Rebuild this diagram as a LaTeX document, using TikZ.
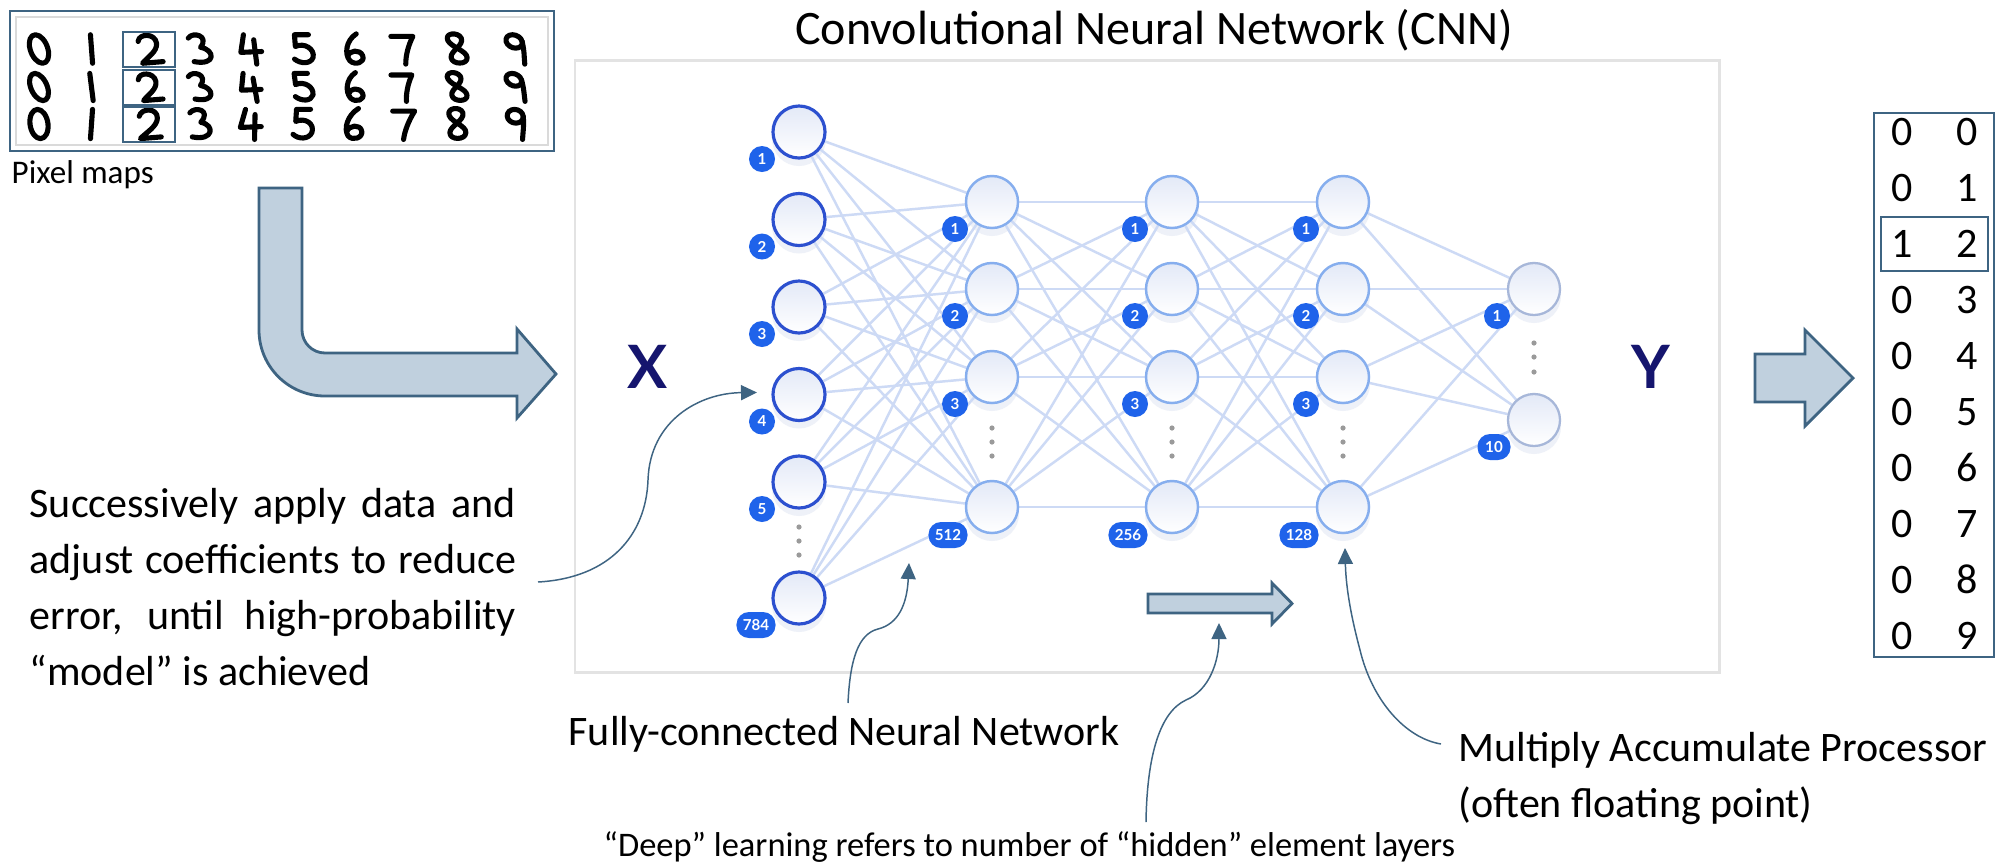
\documentclass[tikz,border=0pt]{standalone}
\usepackage{fontspec}
\setmainfont{Carlito}
\newfontfamily\latofont{Lato}
\usetikzlibrary{arrows.meta,calc,backgrounds}

\definecolor{steel}{HTML}{3E6482}
\definecolor{steelfill}{HTML}{C0D0DE}
\definecolor{edgeblue}{HTML}{CDDAF5}
\definecolor{inring}{HTML}{2C50CF}
\definecolor{hidring}{HTML}{86AEEE}
\definecolor{outring}{HTML}{A7B7D9}
\definecolor{badgeblue}{HTML}{1F63EA}
\definecolor{nodetop}{HTML}{E3E9F7}
\definecolor{navyletter}{HTML}{15156E}
\definecolor{framegray}{HTML}{E3E3E3}
\definecolor{shadowc}{HTML}{EEF1F8}
\definecolor{dotgray}{HTML}{9A9A9A}
\definecolor{digitframe}{HTML}{DADADA}

\newcommand\bodysize{\fontsize{11.95}{15.93}\selectfont}
\newcommand\titlesize{\fontsize{13.66}{16}\selectfont}
\newcommand\smallsize{\fontsize{9.4}{11}\selectfont}
\newcommand\notesize{\fontsize{9.8}{11.5}\selectfont}
\newcommand\badgesize{\latofont\bfseries\fontsize{4.3}{5}\selectfont}
\newcommand\letterfont{\latofont\bfseries\fontsize{17}{20}\selectfont}

\tikzset{
  neuron/.style={circle, minimum size=0.52cm, inner sep=0pt, top color=nodetop, bottom color=white},
  inneuron/.style={neuron, draw=inring, line width=0.9pt},
  hidneuron/.style={neuron, draw=hidring, line width=0.7pt},
  outneuron/.style={neuron, draw=outring, line width=0.65pt},
  netedge/.style={draw=edgeblue, line width=0.7pt},
  badge/.style={circle, fill=badgeblue, text=white, font=\badgesize, minimum size=0.26cm, inner sep=0pt},
  pill/.style={rectangle, rounded corners=0.125cm, fill=badgeblue, text=white, font=\badgesize, minimum width=0.39cm, minimum height=0.26cm, inner sep=0pt},
  bodytext/.style={font=\bodysize, inner sep=0pt, text=black},
  callout/.style={draw=steel, line width=0.42pt, -{Triangle[length=0.16cm, width=0.15cm]}},
  blockarrow/.style={fill=steelfill, draw=steel, line width=0.8pt, line join=miter},
  hw/.style={line width=1.45pt, line cap=round, line join=round, black},
  d0/.pic={\draw[hw] (0,0) ellipse [x radius=9, y radius=17];},
  d1/.pic={\draw[hw] (3,-17) -- (-2,17);},
  d2/.pic={\draw[hw] (-9,-9) .. controls (-6,-19) and (10,-19) .. (9,-7) .. controls (8,3) and (-4,10) .. (-10,17) -- (11,15);},
  d3/.pic={\draw[hw] (-9,-13) .. controls (-3,-21) and (13,-16) .. (1,-2) .. controls (15,1) and (12,20) .. (-9,15);},
  d4/.pic={\draw[hw] (-3,-17) -- (-10,4) -- (11,3); \draw[hw] (6,-11) -- (3,18);},
  d5/.pic={\draw[hw] (10,-17) -- (-4,-17) -- (-6,-3) .. controls (4,-8) and (13,0) .. (9,10) .. controls (5,18) and (-5,18) .. (-10,12);},
  d6/.pic={\draw[hw] (6,-18) .. controls (-6,-10) and (-11,6) .. (-7,14) .. controls (-3,20) and (8,16) .. (7,8) .. controls (6,0) and (-5,1) .. (-8,9);},
  d7/.pic={\draw[hw] (-11,-15) -- (11,-15) .. controls (4,-4) and (-1,8) .. (-3,18);},
  d8/.pic={\draw[hw] (7,-13) .. controls (5,-21) and (-9,-19) .. (-7,-10) .. controls (-5,-2) and (9,2) .. (8,10) .. controls (7,19) and (-9,19) .. (-8,10) .. controls (-7,2) and (8,-4) .. (7,-13);},
  d9/.pic={\draw[hw] (0,-9) circle [radius=8]; \draw[hw] (8,-9) .. controls (8,2) and (6,10) .. (5,18);},
}

\begin{document}
\begin{tikzpicture}[x=0.01cm, y=-0.01cm]
\useasboundingbox (0,0) rectangle (2011,866);

% ---------- network neurons ----------
\foreach \i/\y in {1/132, 2/219.5, 3/307, 4/394.5, 5/482, 6/598}
  \node[inneuron] (in\i) at (799,\y) {};
\foreach \L/\x in {ha/992, hb/1172, hc/1343}
  \foreach \i/\y in {1/202, 2/289, 3/377, 4/507}
    \node[hidneuron] (\L\i) at (\x,\y) {};
\node[outneuron] (out1) at (1534,289) {};
\node[outneuron] (out2) at (1534,420) {};

\begin{scope}[on background layer]
  \fill[white] (0,0) rectangle (2011,866);
  \draw[framegray, line width=0.85pt] (575,60) rectangle (1719,672);
  % soft shadows under the neurons
  \foreach \n in {in1,in2,in3,in4,in5,in6,ha1,ha2,ha3,ha4,hb1,hb2,hb3,hb4,hc1,hc2,hc3,hc4,out1,out2}
    \fill[shadowc] ($(\n)+(0,7)$) circle [radius=27];
  % fully connected layers
  \foreach \a in {1,...,6}
    \foreach \b in {1,...,4}
      \draw[netedge] (in\a) -- (ha\b);
  \foreach \a in {1,...,4}
    \foreach \b in {1,...,4}
      {\draw[netedge] (ha\a) -- (hb\b);
       \draw[netedge] (hb\a) -- (hc\b);}
  \foreach \a in {1,...,4}
    \foreach \b in {1,2}
      \draw[netedge] (hc\a) -- (out\b);
\end{scope}

% elided neurons
\foreach \y in {527,541,555} \fill[dotgray] (799,\y) circle [radius=2.6];
\foreach \x in {992,1172,1343}
  \foreach \y in {428,442,456} \fill[dotgray] (\x,\y) circle [radius=2.6];
\foreach \y in {343,357,372} \fill[dotgray] (1534,\y) circle [radius=2.6];

% neuron index badges
\foreach \i in {1,...,5}
  \node[badge] (bin\i) at ($(in\i)+(-37,27)$) {\i};
\node[pill] (bin6) at ($(in6)+(-43,27)$) {784};
\foreach \L/\n in {ha/512, hb/256, hc/128}
  {\foreach \i in {1,2,3}
     \node[badge] (b\L\i) at ($(\L\i)+(-37,27)$) {\i};
   \node[pill] (b\L4) at ($(\L4)+(-44,28)$) {\n};}
\node[badge] (bout1) at ($(out1)+(-37,27)$) {1};
\node[pill, minimum width=0.33cm] (bout2) at ($(out2)+(-40,27)$) {10};

% input and output symbols
\node[font=\letterfont, text=navyletter, inner sep=0pt] (X) at (648,367) {X};
\node[font=\letterfont, text=navyletter, inner sep=0pt] (Y) at (1651,367) {Y};

% ---------- title ----------
\node[font=\titlesize, inner sep=0pt, anchor=base] (title) at (1154,44) {Convolutional Neural Network (CNN)};

% ---------- handwritten digit samples ----------
\draw[steel, line width=0.7pt] (10,11) rectangle (554,151);
\draw[digitframe, line width=0.3pt] (16,17) rectangle (548,145);
\foreach \d/\x in {0/39, 1/91, 2/149, 3/200, 4/250, 5/302, 6/354, 7/405, 8/457, 9/516}
  {\pic[xslant=-0.25, yscale=0.84] at (\x,49) {d\d};
   \pic[xslant=-0.3, xscale=0.95, yscale=0.8] at (\x,87) {d\d};
   \pic[xslant=-0.1, yscale=0.86] at (\x,124) {d\d};}
\foreach \y in {32,70,107}
  \draw[steel, line width=0.7pt] (123,\y) rectangle ++(52,35);
\node[font=\smallsize, inner sep=0pt, anchor=base west] (pix) at (11,183) {Pixel maps};

% bent arrow into the network
\filldraw[blockarrow] (259,188) -- (259,330) .. controls (259,366.5) and (288.5,396) .. (325,396)
  -- (517,396) -- (517,418) -- (556,374) -- (517,329) -- (517,353) -- (325,353)
  .. controls (312.3,353) and (302,342.7) .. (302,330) -- (302,188) -- cycle;

% layer-depth arrow
\filldraw[blockarrow] (1148,594) -- (1272,594) -- (1272,583) -- (1292,603.5) -- (1272,624)
  -- (1272,613) -- (1148,613) -- cycle;

% arrow to the one-hot output
\filldraw[blockarrow] (1755,354) -- (1805,354) -- (1805,330) -- (1853,378) -- (1805,426)
  -- (1805,402) -- (1755,402) -- cycle;

% ---------- one-hot output column ----------
\draw[steel, line width=0.7pt] (1874,113) rectangle (1994,657);
\foreach \r/\a in {0/0,1/0,2/1,3/0,4/0,5/0,6/0,7/0,8/0,9/0}
  {\node[bodytext, anchor=base] (oa\r) at (1902,{145+56.1*\r}) {\a};
   \node[bodytext, anchor=base] (ob\r) at (1967,{145+56.1*\r}) {\r};}
\draw[steel, line width=0.7pt] (1881,{132+2*56.1-27}) rectangle (1988,{132+2*56.1+27});

% ---------- annotations ----------
\node[bodytext, anchor=base west] (lt1) at (29,517) {\makebox[4.86cm][s]{Successively apply data and}};
\node[bodytext, anchor=base west] (lt2) at (29,573) {\makebox[4.86cm][s]{adjust coefficients to reduce}};
\node[bodytext, anchor=base west] (lt3) at (29,629) {\makebox[4.86cm][s]{error, until high-probability}};
\node[bodytext, anchor=base west] (lt4) at (29,685) {“model” is achieved};

\node[bodytext, anchor=base west] (fc) at (568,745) {Fully-connected Neural Network};
\node[font=\notesize, inner sep=0pt, anchor=base west] (deep) at (603,856) {“Deep” learning refers to number of “hidden” element layers};
\node[bodytext, anchor=base west] (mac1) at (1458,761) {Multiply Accumulate Processor};
\node[bodytext, anchor=base west] (mac2) at (1458,817) {(often floating point)};

% callout connectors
\coordinate (c1s) at (538,582);
\coordinate (c2s) at (848,703);
\coordinate (c3s) at (1146,822);
\coordinate (c3e) at (1219,623);
\coordinate (c4s) at (1441,744);

\draw[callout] (c1s) .. controls (610,578) and (646,535) .. (648,480)
  .. controls (650,420) and (700,393) .. ($(in4)+(-42,-2)$);
\draw[callout] (c2s) .. controls (850,660) and (858,634) .. (878,629)
  .. controls (898,624) and (907,605) .. ($(bha4)+(-39,28)$);
\draw[callout] (c3s) .. controls (1147,755) and (1160,712) .. (1186,700)
  .. controls (1210,690) and (1219,660) .. (c3e);
\draw[callout] (c4s) .. controls (1405,738) and (1372,700) .. (1360,650)
  .. controls (1352,620) and (1346,590) .. ($(hc4)+(2,41)$);

\end{tikzpicture}
\end{document}
